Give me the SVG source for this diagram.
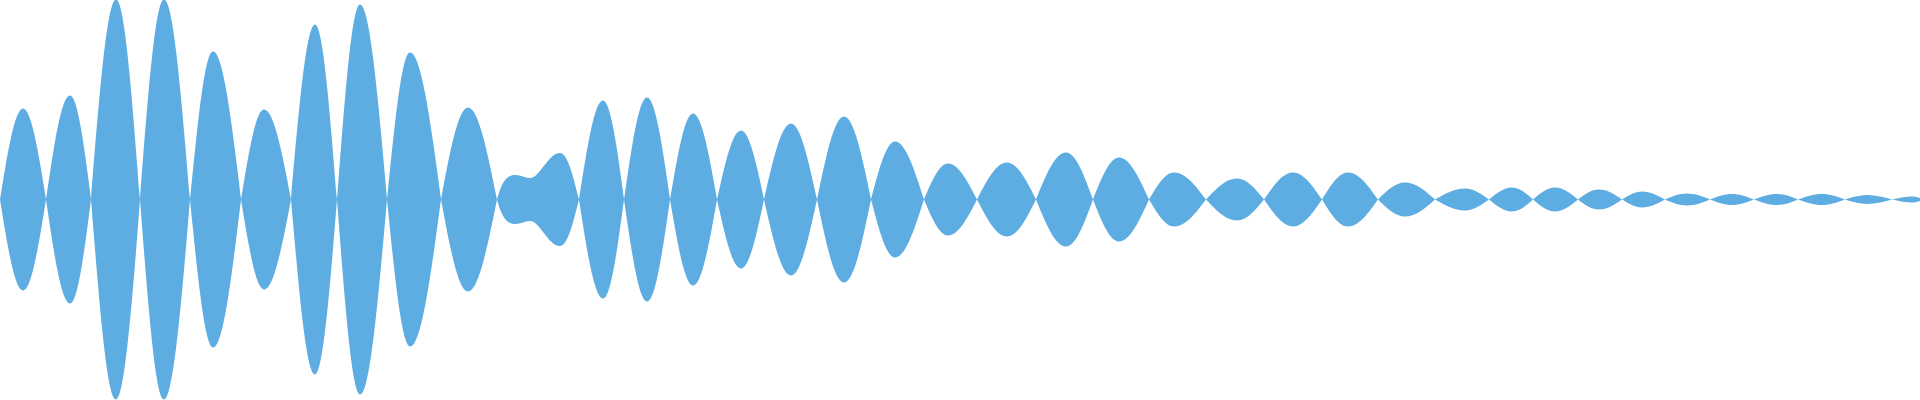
<svg xmlns="http://www.w3.org/2000/svg" width="1920" height="400" viewBox="0 0 1920 400">
<style>.w{fill:#5DADE2;stroke:none}</style>
<rect width="1920" height="400" fill="#ffffff"/>
<g id="waveform" class="w">
<path d="M0,199.5 C7.5,152.9 14.7,108.5 23,108.5 C31.3,108.5 38.5,152.9 46,199.5 C38.5,246.1 31.3,290.5 23,290.5 C14.7,290.5 7.5,246.1 0,199.5Z"/>
<path d="M46,199.5 C53.8,146.3 61.3,95.5 70,95.5 C77.6,95.5 84.2,146.3 91,199.5 C84.2,252.7 77.6,303.5 70,303.5 C61.3,303.5 53.8,252.7 46,199.5Z"/>
<path d="M91,199.5 C99.2,97.1 107,-0.5 116,-0.5 C124.7,-0.5 132.2,97.1 140,199.5 C132.2,301.9 124.7,399.5 116,399.5 C107,399.5 99.2,301.9 91,199.5Z"/>
<path d="M140,199.5 C147.8,97.1 155.3,-0.5 164,-0.5 C173.4,-0.5 181.5,97.1 190,199.5 C181.5,301.9 173.4,399.5 164,399.5 C155.3,399.5 147.8,301.9 140,199.5Z"/>
<path d="M190,199.5 C197.5,123.7 204.7,51.5 213,51.5 C223.1,51.5 231.9,123.7 241,199.5 C231.9,275.3 223.1,347.5 213,347.5 C204.7,347.5 197.5,275.3 190,199.5Z"/>
<path d="M241,199.5 C248.5,153.4 255.7,109.5 264,109.5 C273.8,109.5 282.2,153.4 291,199.5 C282.2,245.6 273.8,289.5 264,289.5 C255.7,289.5 248.5,245.6 241,199.5Z"/>
<path d="M291,199.5 C298.8,109.9 306.3,24.5 315,24.5 C323,24.5 329.8,109.9 337,199.5 C329.8,289.1 323,374.5 315,374.5 C306.3,374.5 298.8,289.1 291,199.5Z"/>
<path d="M337,199.5 C344.5,99.7 351.7,4.5 360,4.5 C369.8,4.5 378.2,99.7 387,199.5 C378.2,299.3 369.8,394.5 360,394.5 C351.7,394.5 344.5,299.3 337,199.5Z"/>
<path d="M387,199.5 C394.5,124.2 401.7,52.5 410,52.5 C421.2,52.5 430.9,124.2 441,199.5 C430.9,274.8 421.2,346.5 410,346.5 C401.7,346.5 394.5,274.8 387,199.5Z"/>
<path d="M441,199.5 C449.8,152.4 458.2,107.5 468,107.5 C478.5,107.5 487.5,152.4 497,199.5 C487.5,246.6 478.5,291.5 468,291.5 C458.2,291.5 449.8,246.6 441,199.5Z"/>
<path d="M497,199.5 C502,180 508,175 515,175 C522,175 524,178 530,178 C540,178 548,153 560,153 C568,153 574,180 579,199.5 C574,219 568,246 560,246 C548,246 540,221 530,221 C524,221 522,224 515,224 C508,224 502,219 497,199.5Z"/>
<path d="M579,199.5 C586.8,148.8 594.3,100.5 603,100.5 C610.6,100.5 617.2,148.8 624,199.5 C617.2,250.2 610.6,298.5 603,298.5 C594.3,298.5 586.8,250.2 579,199.5Z"/>
<path d="M624,199.5 C631.5,147.3 638.7,97.5 647,97.5 C655.3,97.5 662.5,147.3 670,199.5 C662.5,251.7 655.3,301.5 647,301.5 C638.7,301.5 631.5,251.7 624,199.5Z"/>
<path d="M670,199.5 C677.5,155.5 684.7,113.5 693,113.5 C701.7,113.5 709.2,155.5 717,199.5 C709.2,243.5 701.7,285.5 693,285.5 C684.7,285.5 677.5,243.5 670,199.5Z"/>
<path d="M717,199.5 C724.8,164.2 732.3,130.5 741,130.5 C749.3,130.5 756.5,164.2 764,199.5 C756.5,234.8 749.3,268.5 741,268.5 C732.3,268.5 724.8,234.8 717,199.5Z"/>
<path d="M764,199.5 C772.8,160.6 781.2,123.5 791,123.5 C800.4,123.5 808.5,160.6 817,199.5 C808.5,238.4 800.4,275.5 791,275.5 C781.2,275.5 772.8,238.4 764,199.5Z"/>
<path d="M817,199.5 C825.8,157 834.2,116.5 844,116.5 C853.8,116.5 862.2,157 871,199.5 C862.2,242 853.8,282.5 844,282.5 C834.2,282.5 825.8,242 817,199.5Z"/>
<path d="M871,199.5 C878.8,169.8 886.3,141.5 895,141.5 C905.5,141.5 914.5,169.8 924,199.5 C914.5,229.2 905.5,257.5 895,257.5 C886.3,257.5 878.8,229.2 871,199.5Z"/>
<path d="M924,199.5 C931.8,181.1 939.3,163.5 948,163.5 C958.5,163.5 967.5,181.1 977,199.5 C967.5,217.9 958.5,235.5 948,235.5 C939.3,235.5 931.8,217.9 924,199.5Z"/>
<path d="M977,199.5 C986.8,180.6 996.1,162.5 1007,162.5 C1017.5,162.5 1026.5,180.6 1036,199.5 C1026.5,218.4 1017.5,236.5 1007,236.5 C996.1,236.5 986.8,218.4 977,199.5Z"/>
<path d="M1036,199.5 C1045.8,175.4 1055.1,152.5 1066,152.5 C1075.8,152.5 1084.2,175.4 1093,199.5 C1084.2,223.6 1075.8,246.5 1066,246.5 C1055.1,246.5 1045.8,223.6 1036,199.5Z"/>
<path d="M1093,199.5 C1101.5,178 1109.6,157.5 1119,157.5 C1129.9,157.5 1139.2,178 1149,199.5 C1139.2,221 1129.9,241.5 1119,241.5 C1109.6,241.5 1101.5,221 1093,199.5Z"/>
<path d="M1149,199.5 C1157.2,185.7 1165,172.5 1174,172.5 C1185.6,172.5 1195.6,185.7 1206,199.5 C1195.6,213.3 1185.6,226.5 1174,226.5 C1165,226.5 1157.2,213.3 1149,199.5Z"/>
<path d="M1206,199.5 C1216.1,188.7 1225.8,178.5 1237,178.5 C1246.8,178.5 1255.2,188.7 1264,199.5 C1255.2,210.3 1246.8,220.5 1237,220.5 C1225.8,220.5 1216.1,210.3 1206,199.5Z"/>
<path d="M1264,199.5 C1273.5,185.7 1282.5,172.5 1293,172.5 C1303.5,172.5 1312.5,185.7 1322,199.5 C1312.5,213.3 1303.5,226.5 1293,226.5 C1282.5,226.5 1273.5,213.3 1264,199.5Z"/>
<path d="M1322,199.5 C1330.5,185.7 1338.6,172.5 1348,172.5 C1358.9,172.5 1368.2,185.7 1378,199.5 C1368.2,213.3 1358.9,226.5 1348,226.5 C1338.6,226.5 1330.5,213.3 1322,199.5Z"/>
<path d="M1378,199.5 C1386.8,190.8 1395.2,182.5 1405,182.5 C1415.9,182.5 1425.2,190.8 1435,199.5 C1425.2,208.2 1415.9,216.5 1405,216.5 C1395.2,216.5 1386.8,208.2 1378,199.5Z"/>
<path d="M1435,199.5 C1444.8,193.9 1454.1,188.5 1465,188.5 C1473.7,188.5 1481.2,193.9 1489,199.5 C1481.2,205.1 1473.7,210.5 1465,210.5 C1454.1,210.5 1444.8,205.1 1435,199.5Z"/>
<path d="M1489,199.5 C1496.5,193.4 1503.7,187.5 1512,187.5 C1519.6,187.5 1526.2,193.4 1533,199.5 C1526.2,205.6 1519.6,211.5 1512,211.5 C1503.7,211.5 1496.5,205.6 1489,199.5Z"/>
<path d="M1533,199.5 C1540.2,193.4 1547,187.5 1555,187.5 C1563.3,187.5 1570.5,193.4 1578,199.5 C1570.5,205.6 1563.3,211.5 1555,211.5 C1547,211.5 1540.2,205.6 1533,199.5Z"/>
<path d="M1578,199.5 C1584.8,194.4 1591.4,189.5 1599,189.5 C1607.3,189.5 1614.5,194.4 1622,199.5 C1614.5,204.6 1607.3,209.5 1599,209.5 C1591.4,209.5 1584.8,204.6 1578,199.5Z"/>
<path d="M1622,199.5 C1628.5,195.4 1634.8,191.5 1642,191.5 C1650.3,191.5 1657.5,195.4 1665,199.5 C1657.5,203.6 1650.3,207.5 1642,207.5 C1634.8,207.5 1628.5,203.6 1622,199.5Z"/>
<path d="M1665,199.5 C1672.2,196.4 1679,193.5 1687,193.5 C1695.3,193.5 1702.5,196.4 1710,199.5 C1702.5,202.6 1695.3,205.5 1687,205.5 C1679,205.5 1672.2,202.6 1665,199.5Z"/>
<path d="M1710,199.5 C1717.2,196.7 1724,194 1732,194 C1740,194 1746.8,196.7 1754,199.5 C1746.8,202.3 1740,205 1732,205 C1724,205 1717.2,202.3 1710,199.5Z"/>
<path d="M1754,199.5 C1761.5,196.7 1768.7,194 1777,194 C1784.6,194 1791.2,196.7 1798,199.5 C1791.2,202.3 1784.6,205 1777,205 C1768.7,205 1761.5,202.3 1754,199.5Z"/>
<path d="M1798,199.5 C1805.8,196.7 1813.3,194 1822,194 C1830.3,194 1837.5,196.7 1845,199.5 C1837.5,202.3 1830.3,205 1822,205 C1813.3,205 1805.8,202.3 1798,199.5Z"/>
<path d="M1845,199.5 C1852.2,197.2 1859,195 1867,195 C1876,195 1883.9,197.2 1892,199.5 C1883.9,201.8 1876,204 1867,204 C1859,204 1852.2,201.8 1845,199.5Z"/>
<path d="M1892,199.5 C1898.5,198 1904.8,196.5 1912,196.5 C1916.3,196.5 1920.1,198 1924,199.5 C1920.1,201 1916.3,202.5 1912,202.5 C1904.8,202.5 1898.5,201 1892,199.5Z"/>
</g>
</svg>
